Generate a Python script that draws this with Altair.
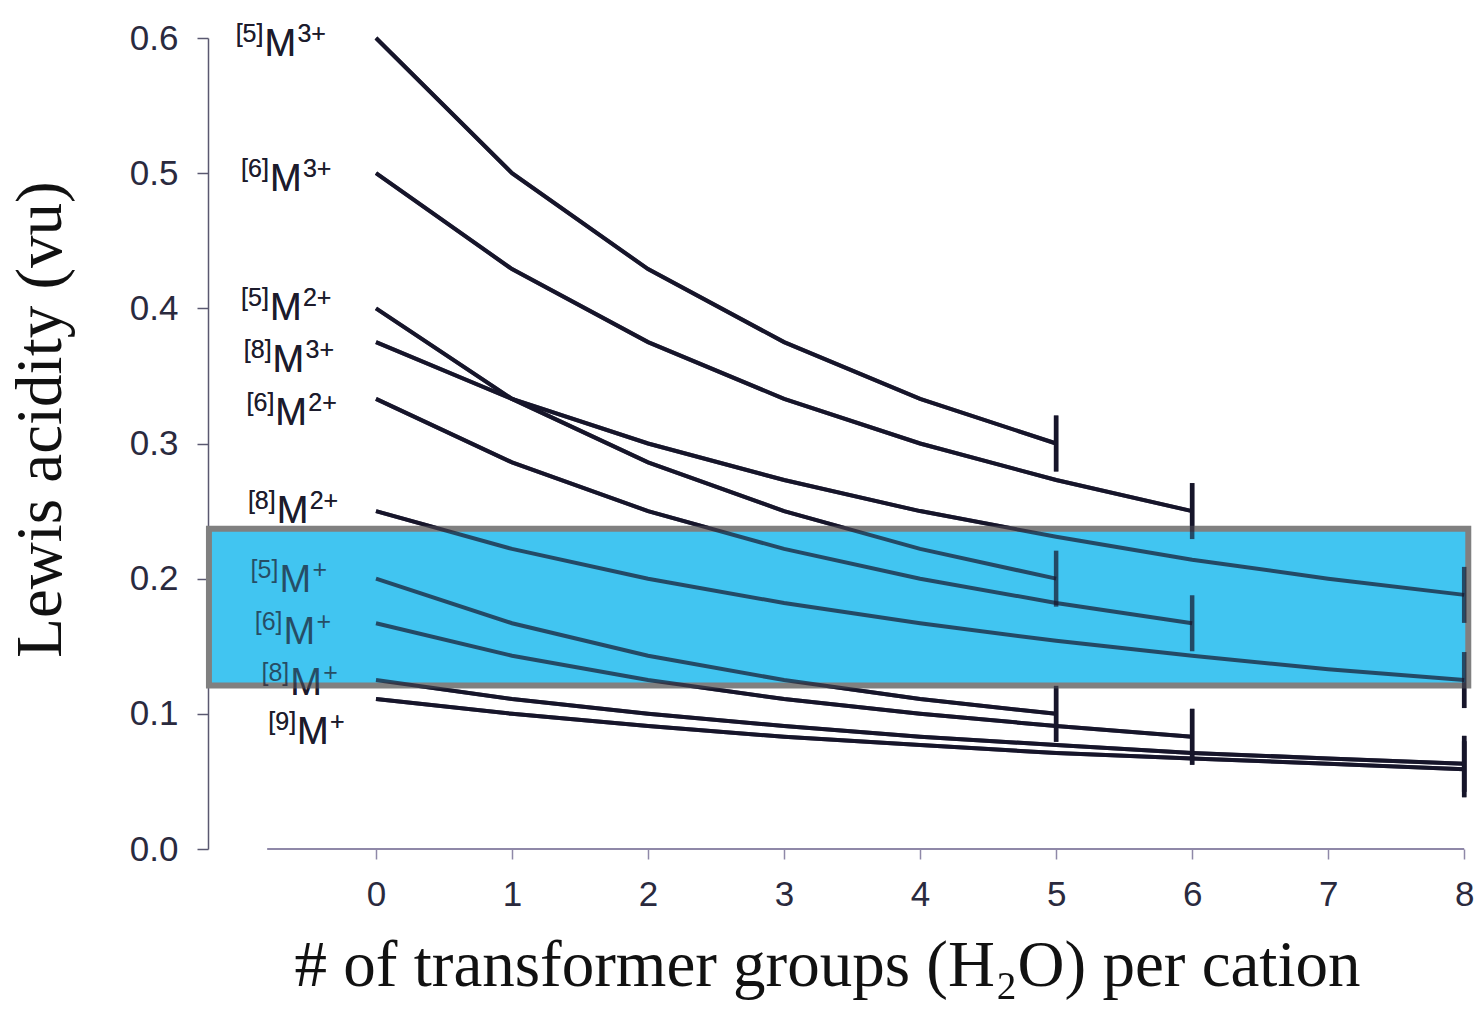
import altair as alt
import pandas as pd

# ---- data ----
series_names = ["[5]M3+", "[6]M3+", "[5]M2+", "[8]M3+", "[6]M2+",
                "[8]M2+", "[5]M+", "[6]M+", "[8]M+", "[9]M+"]
label_prefix = ["[5]", "[6]", "[5]", "[8]", "[6]", "[8]", "[5]", "[6]", "[8]", "[9]"]
label_suffix = ["3+", "3+", "2+", "3+", "2+", "2+", "+", "+", "+", "+"]

s53 = [0.600, 0.500, 0.429, 0.375, 0.333, 0.300]
s63 = [0.500, 0.429, 0.375, 0.333, 0.300, 0.273, 0.250]
s52 = [0.400, 0.333, 0.286, 0.250, 0.222, 0.200]
s83 = [0.375, 0.333, 0.300, 0.273, 0.250, 0.231, 0.214, 0.200, 0.188]
s62 = [0.333, 0.286, 0.250, 0.222, 0.200, 0.182, 0.167]
s82 = [0.250, 0.222, 0.200, 0.182, 0.167, 0.154, 0.143, 0.133, 0.125]
s51 = [0.200, 0.167, 0.143, 0.125, 0.111, 0.100]
s61 = [0.167, 0.143, 0.125, 0.111, 0.100, 0.091, 0.083]
s81 = [0.125, 0.111, 0.100, 0.091, 0.083, 0.077, 0.071, 0.067, 0.063]
s91 = [0.111, 0.100, 0.091, 0.083, 0.077, 0.071, 0.067, 0.063, 0.059]
all_series = [s53, s63, s52, s83, s62, s82, s51, s61, s81, s91]

# label anchors (data units) as placed in the figure
label_x = [-0.82, -0.78, -0.78, -0.76, -0.74, -0.73, -0.71, -0.68, -0.63, -0.58]
label_y = [0.587, 0.487, 0.391, 0.353, 0.314, 0.241, 0.190, 0.152, 0.114, 0.078]

# highlighted band
band_x = [-1.228]
band_x2 = [8.03]
band_y = [0.121]
band_y2 = [0.237]

x_ticks = [0, 1, 2, 3, 4, 5, 6, 7, 8]
y_ticks = [0.0, 0.1, 0.2, 0.3, 0.4, 0.5, 0.6]
axis_line_x = [-0.8]
axis_line_x2 = [8.0]

# ---- tables ----
rows = []
for name, vals in zip(series_names, all_series):
    for i, v in enumerate(vals):
        rows.append({"series": name, "n": i, "acid": v})
df = pd.DataFrame(rows)
ends = df.loc[df.groupby("series")["n"].idxmax()].reset_index(drop=True)

labels = pd.DataFrame({"series": series_names, "lx": label_x, "ly": label_y,
                       "pre": label_prefix, "suf": label_suffix})
band = pd.DataFrame({"x": band_x, "x2": band_x2, "y": band_y, "y2": band_y2})
axis_df = pd.DataFrame({"x": axis_line_x, "x2": axis_line_x2, "y": [0.0]})

W, H = 1263, 811
LINE = "#17152b"
TXT = "#1c1b2c"

xscale = alt.Scale(domain=[-1.235, 8.05], nice=False, zero=False)
yscale = alt.Scale(domain=[0, 0.6], nice=False, zero=False)

xaxis = alt.Axis(values=x_ticks, format="d", domain=False, grid=False,
                 tickSize=10, tickColor="#8f88a8", tickWidth=1.5,
                 labelFont="Liberation Sans", labelFontSize=35, labelColor="#2a2a3e",
                 labelPadding=18,
                 title="# of transformer groups (H₂O) per cation",
                 titleFont="Liberation Serif", titleFontSize=65, titleFontWeight="normal",
                 titleColor="#111111", titleX=619, titleY=136, titleAlign="center",
                 titleBaseline="alphabetic")
yaxis = alt.Axis(values=y_ticks, format=".1f", grid=False,
                 domainColor="#5a5870", domainWidth=1.5,
                 tickSize=11, tickColor="#5a5870", tickWidth=1.5,
                 labelFont="Liberation Sans", labelFontSize=35, labelColor="#2a2a3e",
                 labelPadding=19,
                 title="Lewis acidity (vu)",
                 titleFont="Liberation Serif", titleFontSize=65, titleFontWeight="normal",
                 titleColor="#111111", titleX=-148, titleY=381, titleAngle=270,
                 titleAlign="center", titleBaseline="alphabetic")

X = lambda f: alt.X(f, type="quantitative", scale=xscale, axis=xaxis)
Y = lambda f: alt.Y(f, type="quantitative", scale=yscale, axis=yaxis)

axis_rule = alt.Chart(axis_df).mark_rule(color="#8f88a8", strokeWidth=2).encode(
    x=X("x"), x2="x2", y=Y("y"))

def lines(op):
    return alt.Chart(df).mark_line(color=LINE, strokeWidth=4, opacity=op).encode(
        x=X("n"), y=Y("acid"), detail="series:N", order="n:Q")

def ticks(op):
    return alt.Chart(ends).mark_tick(orient="vertical", color=LINE, size=56,
                                     thickness=4.5, opacity=op).encode(
        x=X("n"), y=Y("acid"))

def texts(op):
    base = alt.Chart(labels)
    pre = base.mark_text(align="right", baseline="alphabetic", dx=-1, dy=-14,
                         font="Liberation Sans", fontSize=25, color=TXT, opacity=op).encode(
        x=X("lx"), y=Y("ly"), text="pre:N")
    m = base.mark_text(align="left", baseline="alphabetic",
                       font="Liberation Sans", fontSize=38, color=TXT, opacity=op).encode(
        x=X("lx"), y=Y("ly"), text=alt.value("M"))
    suf = base.mark_text(align="left", baseline="alphabetic", dx=33, dy=-14,
                         font="Liberation Sans", fontSize=25, color=TXT, opacity=op).encode(
        x=X("lx"), y=Y("ly"), text="suf:N")
    return [pre, m, suf]

rect = alt.Chart(band).mark_rect(fill="#41c5f1", stroke="#808080", strokeWidth=6).encode(
    x=X("x"), x2="x2", y=Y("y"), y2="y2")

OV = 0.7
chart = alt.layer(
    axis_rule, lines(1.0), ticks(1.0), *texts(1.0),
    rect,
    lines(OV), ticks(OV), *texts(OV),
).properties(
    width=W, height=H,
    autosize=alt.AutoSizeParams(type="none"),
    padding={"left": 208, "top": 38, "right": 6, "bottom": 166},
    background="white",
).configure_view(stroke=None)

chart.save("out.html", embed_options={"renderer": "svg", "actions": False})
